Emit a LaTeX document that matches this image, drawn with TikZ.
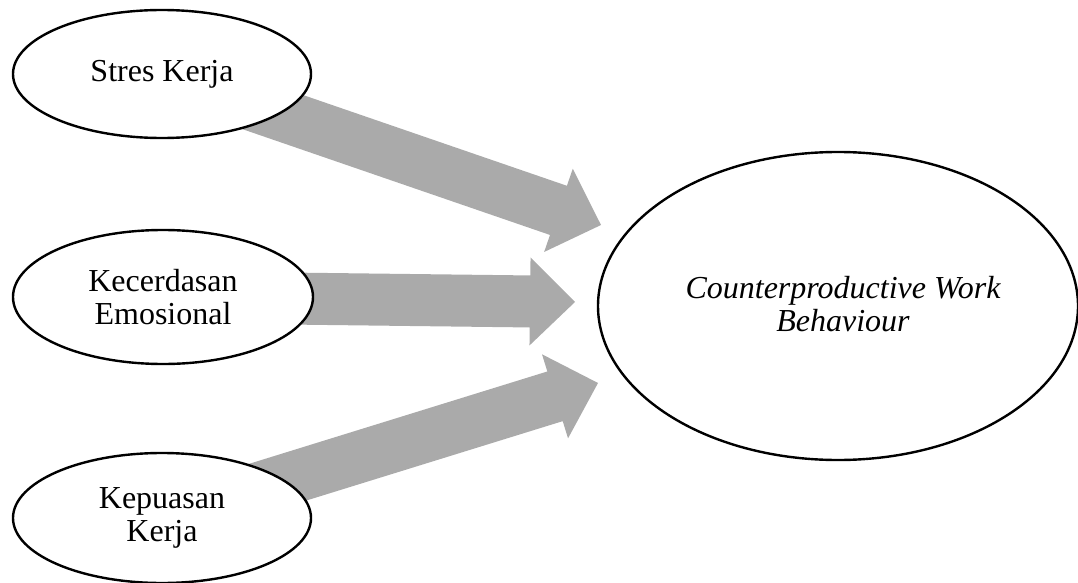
\documentclass[tikz,border=0pt]{standalone}
\usepackage{fontspec}
\setmainfont{Liberation Serif}
\usetikzlibrary{calc,shapes.geometric}
\pgfdeclarelayer{bg}
\pgfsetlayers{bg,main}
\definecolor{arrowgray}{RGB}{170,170,170}
\newcommand\myblockarrow[2]{%
  \coordinate (hb) at ($(#2)!45pt!(#1)$);
  \fill[arrowgray]
    ($(#1)!26pt!90:(#2)$) --
    ($(hb)!26pt!90:(#2)$) --
    ($(hb)!44pt!90:(#2)$) --
    (#2) --
    ($(hb)!44pt!-90:(#2)$) --
    ($(hb)!26pt!-90:(#2)$) --
    ($(#1)!26pt!-90:(#2)$) -- cycle;
}
\begin{document}
\begin{tikzpicture}[x=1pt,y=-1pt,
  var/.style={ellipse, draw, line width=2.4pt, fill=white, inner sep=0pt,
    align=center, font=\fontsize{32}{33}\selectfont}]
\useasboundingbox (0,0) rectangle (1078,583);
\node[var, minimum width=298pt, minimum height=128pt] (stres) at (162,74) {Stres Kerja};
\node[var, minimum width=300pt, minimum height=134pt] (kecer) at (163,297) {Kecerdasan\\Emosional};
\node[var, minimum width=298pt, minimum height=130pt] (kepuas) at (162,518) {Kepuasan\\Kerja};
\node[var, minimum width=480pt, minimum height=308pt] (cwb) at (838,306) {};
\node[font=\fontsize{32}{33}\selectfont\itshape, align=center, inner sep=0pt] (cwbtext) at (843,304) {Counterproductive Work\\Behaviour};
\coordinate (t1) at (601,225);
\coordinate (t2) at (575,302);
\coordinate (t3) at (598,383);
\begin{pgfonlayer}{bg}
\myblockarrow{stres.center}{t1}
\myblockarrow{kecer.center}{t2}
\myblockarrow{kepuas.center}{t3}
\end{pgfonlayer}
\end{tikzpicture}
\end{document}
